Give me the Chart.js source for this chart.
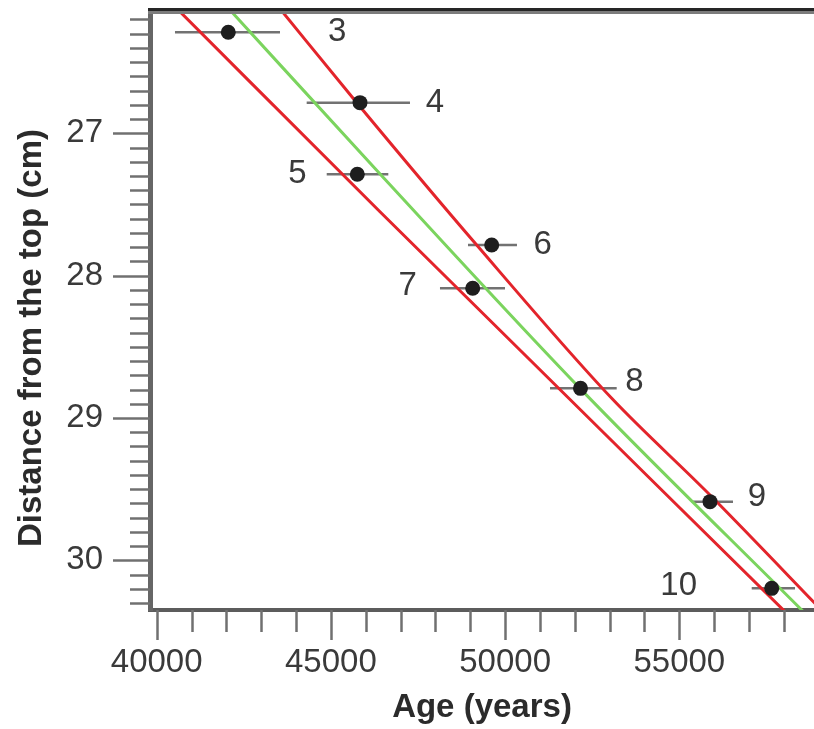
<!DOCTYPE html>
<html>
<head>
<meta charset="utf-8">
<script src="https://cdn.jsdelivr.net/npm/chart.js@4"></script>
<style>
  body { margin: 0; background: #fff; }
  canvas { display: block; }
</style>
</head>
<body>
<canvas id="age-depth" width="814" height="729"></canvas>
<script>
// dated samples: age (years) against depth below the top (cm)
const sampleIds = ['3', '4', '5', '6', '7', '8', '9', '10'];
const ages = [42055, 45835, 45758, 49615, 49070, 52164, 55881, 57652];
const depths = [26.29, 26.785, 27.288, 27.785, 28.089, 28.792, 29.588, 30.197];
const ageLow = [40525, 44305, 44880, 48935, 48131, 51289, 55356, 57078];
const ageHigh = [43539, 47270, 46648, 50341, 49997, 53203, 56541, 58321];

// age model (green) and its envelope (red)
const fitAges = [42104, 46438, 52150, 58570];
const fitDepths = [26.134, 27.293, 28.792, 30.363];
const lowerAges = [40620, 46409, 58045];
const lowerDepths = [26.134, 27.551, 30.363];
const upperAges = [43568, 45749, 49185, 53060, 55881, 59325];
const upperDepths = [26.134, 26.787, 27.785, 28.862, 29.541, 30.412];

// axis ranges and tick values
const ageRange = [39808, 58866];
const depthRange = [26.148, 30.349];
const ageTicks = [40000, 41000, 42000, 43000, 44000, 45000, 46000, 47000, 48000, 49000,
  50000, 51000, 52000, 53000, 54000, 55000, 56000, 57000, 58000];
const ageTickLabels = [40000, 45000, 50000, 55000];
const depthTicks = [26.2, 26.3, 26.4, 26.5, 26.6, 26.7, 26.8, 26.9, 27,
  27.1, 27.2, 27.3, 27.4, 27.5, 27.6, 27.7, 27.8, 27.9, 28,
  28.1, 28.2, 28.3, 28.4, 28.5, 28.6, 28.7, 28.8, 28.9, 29,
  29.1, 29.2, 29.3, 29.4, 29.5, 29.6, 29.7, 29.8, 29.9, 30,
  30.1, 30.2, 30.3];
const depthTickLabels = [27, 28, 29, 30];

// where each sample number sits relative to its dot (px)
const labelShift = [[109, 0], [75, 0], [-60, 0], [51, 0], [-65, -2], [54, -6], [47, -5], [-93, -2]];

const FONT = "'Liberation Sans', Arial, sans-serif";
const pairs = (xs, ys) => xs.map((x, i) => ({ x: x, y: ys[i] }));
const hasLabel = (list, v) => list.some(l => Math.abs(l - v) < 1e-6);

const decorations = {
  id: 'decorations',
  beforeDatasetsDraw(chart) {
    const { ctx, scales: { x, y } } = chart;
    ctx.save();
    ctx.strokeStyle = '#727272';
    ctx.lineWidth = 2.5;
    ages.forEach((a, i) => {
      const py = y.getPixelForValue(depths[i]);
      ctx.beginPath();
      ctx.moveTo(x.getPixelForValue(ageLow[i]), py);
      ctx.lineTo(x.getPixelForValue(ageHigh[i]), py);
      ctx.stroke();
    });
    ctx.restore();
  },
  afterDraw(chart) {
    const { ctx, chartArea: area, scales: { x, y } } = chart;
    ctx.save();

    // tick marks, long on the labelled values
    ctx.strokeStyle = '#707070';
    ctx.lineWidth = 2.5;
    x.ticks.forEach(t => {
      const px = Math.round(x.getPixelForValue(t.value)) + 0.5;
      const len = hasLabel(ageTickLabels, t.value) ? 30 : 22;
      ctx.beginPath();
      ctx.moveTo(px, area.bottom);
      ctx.lineTo(px, area.bottom + len);
      ctx.stroke();
    });
    y.ticks.forEach(t => {
      const py = Math.round(y.getPixelForValue(t.value)) + 0.5;
      const len = hasLabel(depthTickLabels, t.value) ? 37 : 20;
      ctx.beginPath();
      ctx.moveTo(area.left, py);
      ctx.lineTo(area.left - len, py);
      ctx.stroke();
    });

    // heavy top frame line
    ctx.fillStyle = '#262626';
    ctx.fillRect(area.left - 2, area.top - 4, chart.width, 3);
    ctx.fillStyle = '#7c7c7c';
    ctx.fillRect(area.left - 2, area.top - 1, chart.width, 3);

    // sample numbers
    ctx.fillStyle = '#3a3a3a';
    ctx.font = '33px ' + FONT;
    ctx.textAlign = 'center';
    ctx.textBaseline = 'middle';
    sampleIds.forEach((id, i) => {
      const px = x.getPixelForValue(ages[i]) + labelShift[i][0];
      const py = y.getPixelForValue(depths[i]) + labelShift[i][1];
      ctx.fillText(id, px, py);
    });

    // vertical axis title
    ctx.translate(41, 338);
    ctx.rotate(-Math.PI / 2);
    ctx.fillStyle = '#2b2b2b';
    ctx.font = 'bold 33px ' + FONT;
    ctx.textBaseline = 'alphabetic';
    ctx.fillText('Distance from the top (cm)', 0, 0);
    ctx.restore();
  }
};

const lineStyle = color => ({
  type: 'line',
  borderColor: color,
  borderWidth: 3,
  pointRadius: 0,
  fill: false,
  cubicInterpolationMode: 'monotone'
});

new Chart(document.getElementById('age-depth').getContext('2d'), {
  data: {
    datasets: [
      {
        type: 'scatter',
        label: 'Samples',
        data: pairs(ages, depths),
        pointRadius: 7.5,
        pointBackgroundColor: '#1e1e1e',
        pointBorderWidth: 0
      },
      Object.assign(lineStyle('#7bd45e'), { label: 'Model', data: pairs(fitAges, fitDepths) }),
      Object.assign(lineStyle('#e3242b'), { label: 'Lower', data: pairs(lowerAges, lowerDepths) }),
      Object.assign(lineStyle('#e3242b'), { label: 'Upper', data: pairs(upperAges, upperDepths) })
    ]
  },
  options: {
    responsive: false,
    animation: false,
    layout: { autoPadding: false, padding: { top: 12, right: 0, bottom: 0, left: 0 } },
    plugins: { legend: { display: false }, tooltip: { enabled: false } },
    scales: {
      x: {
        type: 'linear',
        position: 'bottom',
        min: ageRange[0],
        max: ageRange[1],
        afterBuildTicks(scale) { scale.ticks = ageTicks.map(v => ({ value: v })); },
        afterFit(scale) {
          scale.height = 119;
          scale.paddingLeft = 0;
          scale.paddingRight = 0;
        },
        grid: { drawOnChartArea: false, tickLength: 30, tickColor: 'rgba(0,0,0,0)' },
        border: { color: '#5c5c5c', width: 4 },
        ticks: {
          autoSkip: false,
          maxRotation: 0,
          padding: 3,
          color: '#3a3a3a',
          font: { family: FONT, size: 33 },
          callback: v => (hasLabel(ageTickLabels, v) ? String(v) : '')
        },
        title: {
          display: true,
          text: 'Age (years)',
          color: '#2b2b2b',
          font: { family: FONT, size: 33, weight: 'bold' },
          padding: { top: 0, bottom: 1 }
        }
      },
      y: {
        type: 'linear',
        reverse: true,
        min: depthRange[0],
        max: depthRange[1],
        afterBuildTicks(scale) { scale.ticks = depthTicks.map(v => ({ value: v })); },
        afterFit(scale) {
          scale.width = 150;
          scale.paddingTop = 0;
          scale.paddingBottom = 0;
        },
        grid: { drawOnChartArea: false, tickLength: 37, tickColor: 'rgba(0,0,0,0)' },
        border: { color: '#666666', width: 5 },
        ticks: {
          autoSkip: false,
          padding: 10,
          color: '#3a3a3a',
          font: { family: FONT, size: 33 },
          callback: v => (hasLabel(depthTickLabels, v) ? String(Math.round(v)) : '')
        }
      }
    }
  },
  plugins: [decorations]
});
</script>
</body>
</html>
